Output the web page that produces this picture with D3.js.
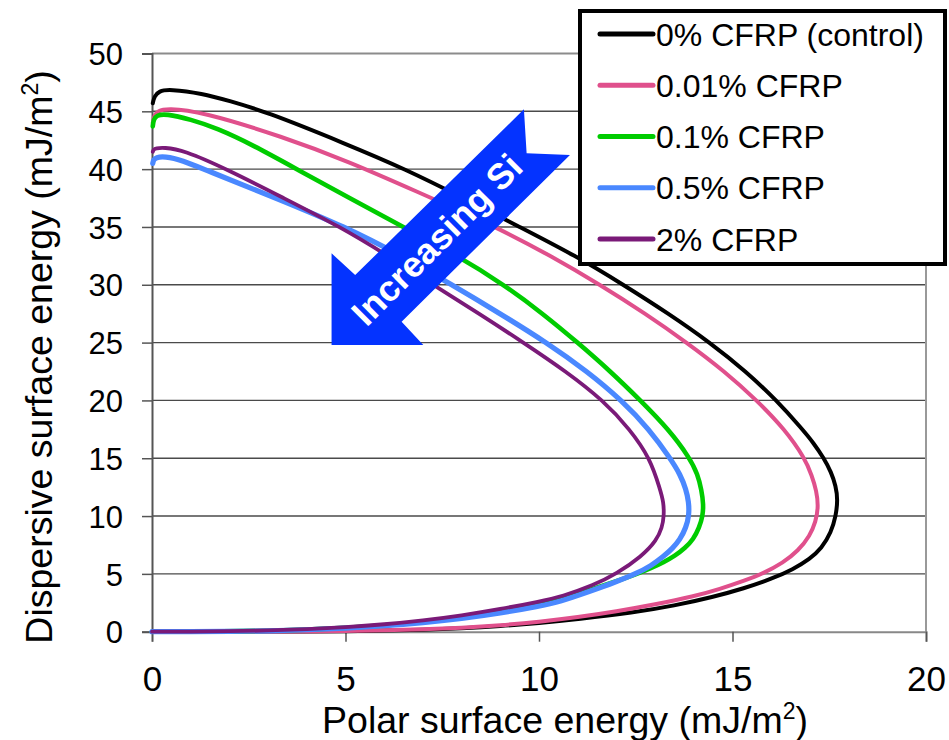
<!DOCTYPE html>
<html><head><meta charset="utf-8">
<script src="https://cdn.jsdelivr.net/npm/d3@7"></script>
<style>
html,body{margin:0;padding:0;background:#fff;}
text{font-family:"Liberation Sans",Arial,sans-serif;}
</style></head>
<body><svg id="c" width="949" height="740"></svg>
<script>
// ---- data: [polar, dispersive] read along each envelope ----
const seriesNames = ["0% CFRP (control)","0.01% CFRP","0.1% CFRP","0.5% CFRP","2% CFRP"];
const seriesColors = ["#000000","#e0508c","#00cc00","#4a88ff","#7a1a78"];
const seriesWidths = [4,4,4.6,5.2,3.8];

const ctrl = [[0,0],[2,0.003],[4,0.02],[5,0.045],[6,0.09],[7,0.17],[8,0.29],[9,0.48],[10,0.75],[11,1.08],[12.44,1.65],[13.5,2.25],[14.5,3.0],[15.3,3.75],[16.0,4.55],[16.57,5.4],[17.0,6.3],[17.3,7.2],[17.55,8.6],[17.67,10.0],[17.72,11.4],[17.67,12.6],[17.55,13.8],[17.36,15.0],[17.1,16.3],[16.78,17.6],[16.14,20.0],[15.35,22.5],[14.42,25.0],[13.35,27.5],[12.18,30.0],[10.95,32.5],[9.5,35.0],[8.05,37.5],[6.55,40.0],[5.0,42.2],[2.92,45.0],[2.0,45.9],[1.3,46.55],[0.45,46.92],[0.18,46.75],[0.06,46.3],[0.02,45.7]];
const p001 = [[0,0],[2,0.004],[4,0.025],[5,0.055],[6,0.11],[7,0.2],[8,0.34],[9,0.55],[10,0.85],[11,1.25],[12,1.75],[13,2.35],[14,3.05],[14.68,3.7],[15.3,4.4],[15.8,5.05],[16.3,5.95],[16.7,7.0],[17.0,8.3],[17.15,9.5],[17.22,10.8],[17.17,12.2],[17.05,13.5],[16.87,15.0],[16.35,17.5],[15.63,20.0],[14.8,22.5],[13.82,25.0],[12.75,27.5],[11.58,30.0],[10.3,32.5],[8.9,35.0],[6.75,38.2],[5.12,40.6],[3.39,42.8],[1.24,45.0],[0.4,45.26],[0.15,45.05],[0.05,44.6],[0.02,44.0]];
const p01 = [[0,0],[2,0.022],[3,0.075],[4,0.17],[5,0.32],[6,0.53],[7,0.83],[8,1.2],[9,1.68],[10,2.3],[10.54,2.7],[11.32,3.62],[11.95,4.3],[12.5,4.95],[12.9,5.5],[13.22,6.0],[13.51,6.55],[13.78,7.25],[13.99,8.0],[14.14,9.0],[14.23,10.0],[14.25,11.0],[14.2,12.25],[14.1,13.6],[13.9,15.0],[13.35,17.5],[12.62,20.0],[11.85,22.5],[11.0,25.0],[10.1,27.5],[9.1,30.0],[7.9,32.5],[6.49,35.0],[5.1,37.5],[3.74,40.0],[2.6,42.1],[1.67,43.55],[1.0,44.3],[0.35,44.8],[0.12,44.65],[0.04,44.3],[0.02,43.7]];
const p05 = [[0,0],[1,0.004],[2,0.02],[3,0.07],[4,0.16],[5,0.3],[6,0.5],[7,0.78],[8,1.13],[9,1.6],[10,2.2],[10.54,2.6],[11.32,3.5],[11.95,4.25],[12.5,5.0],[12.9,5.7],[13.21,6.49],[13.45,7.2],[13.64,7.95],[13.8,9.0],[13.88,10.1],[13.87,11.2],[13.8,12.3],[13.65,13.6],[13.39,15.0],[12.85,17.5],[12.14,20.0],[11.25,22.5],[10.2,25.0],[9.0,27.5],[7.75,30.0],[6.45,32.5],[5.0,35.0],[3.2,37.5],[1.33,40.0],[0.8,40.75],[0.32,41.12],[0.1,41.0],[0.04,40.8],[0.02,40.5]];
const p2 = [[0,0],[1,0.008],[2,0.035],[3,0.1],[4,0.21],[5,0.38],[6,0.63],[7,0.97],[8,1.4],[9,1.95],[10,2.6],[10.6,3.05],[11.4,4.0],[12.0,5.0],[12.65,6.5],[13.04,7.9],[13.18,9.0],[13.23,10.0],[13.22,11.2],[13.13,12.3],[12.87,15.0],[12.35,17.5],[11.66,20.0],[10.7,22.5],[9.6,25.0],[8.45,27.5],[7.27,30.0],[6.1,32.5],[4.87,35.0],[3.4,37.5],[1.93,40.0],[0.81,41.65],[0.3,41.88],[0.1,41.8],[0.04,41.7],[0.02,41.5]];
const seriesData = [ctrl,p001,p01,p05,p2];

const xTicks = [0,5,10,15,20];
const yTicks = [0,5,10,15,20,25,30,35,40,45,50];

// annotation arrow outline and label anchor, in data units
const arrowPts = [[9.61,45.17],[9.68,41.37],[10.80,41.22],[6.45,26.81],[7.01,24.79],[4.64,24.79],[4.64,32.72],[5.25,30.84]];
const arrowLabel = "Increasing Si";
const arrowLabelAt = [7.36,33.9];

const svg = d3.select("#c");
const x = d3.scaleLinear().domain([0,20]).range([152,926]);
const y = d3.scaleLinear().domain([0,50]).range([631.7,53.5]);

// gridlines
svg.append("g").selectAll("line").data(yTicks.filter(d=>d>0)).join("line")
  .attr("x1",x(0)).attr("x2",x(20)).attr("y1",d=>y(d)).attr("y2",d=>y(d))
  .attr("stroke",d=>d===50?"#8c8c8c":"#4a4a4a").attr("stroke-width",d=>d===50?2:1.4);
// right border
svg.append("line").attr("x1",x(20)).attr("x2",x(20)).attr("y1",y(50)).attr("y2",y(0))
  .attr("stroke","#999").attr("stroke-width",2);

// axes
const yAxis = d3.axisLeft(y).tickValues(yTicks).tickSize(10).tickPadding(18);
const gy = svg.append("g").attr("transform",`translate(${x(0)},0)`).call(yAxis);
gy.select(".domain").attr("stroke","#555").attr("stroke-width",2);
gy.selectAll(".tick line").attr("stroke","#555").attr("stroke-width",1.5);
gy.selectAll(".tick text").attr("font-size",31).attr("fill","#000")
  .attr("font-family","Liberation Sans, Arial, sans-serif").attr("dy","0.36em").attr("x",-29);

const xAxis = d3.axisBottom(x).tickValues(xTicks).tickSize(10).tickPadding(24);
const gx = svg.append("g").attr("transform",`translate(0,${y(0)})`).call(xAxis);
gx.select(".domain").attr("stroke","#888").attr("stroke-width",2);
gx.selectAll(".tick line").attr("stroke","#555").attr("stroke-width",1.5);
gx.selectAll(".tick text").attr("font-size",35).attr("fill","#000")
  .attr("font-family","Liberation Sans, Arial, sans-serif").attr("dy","0.71em");

// curves
const line = d3.line().x(d=>x(d[0])).y(d=>y(d[1])).curve(d3.curveBasis);
svg.append("g").selectAll("path").data(seriesData).join("path")
  .attr("d",line).attr("fill","none")
  .attr("stroke",(d,i)=>seriesColors[i]).attr("stroke-width",(d,i)=>seriesWidths[i])
  .attr("stroke-linejoin","round").attr("stroke-linecap","round");

// arrow annotation
svg.append("path")
  .attr("d", d3.line().x(d=>x(d[0])).y(d=>y(d[1]))(arrowPts)+"Z")
  .attr("fill","#0433ff");
svg.append("text").attr("x",0).attr("y",0)
  .attr("transform",`translate(${x(arrowLabelAt[0])},${y(arrowLabelAt[1])}) rotate(-45)`)
  .attr("text-anchor","middle").attr("dominant-baseline","central")
  .attr("font-size",36).attr("font-weight","bold").attr("fill","#fff")
  .text(arrowLabel);

// axis titles
const xt = svg.append("text").attr("x",565).attr("y",733).attr("text-anchor","middle")
  .attr("font-size",37.5).attr("fill","#000");
xt.append("tspan").text("Polar surface energy (mJ/m");
xt.append("tspan").attr("font-size",23).attr("dy",-14).text("2");
xt.append("tspan").attr("dy",14).text(")");

const yt = svg.append("text").attr("transform","translate(52,357) rotate(-90)").attr("text-anchor","middle")
  .attr("font-size",37.5).attr("fill","#000");
yt.append("tspan").text("Dispersive surface energy (mJ/m");
yt.append("tspan").attr("font-size",23).attr("dy",-14).text("2");
yt.append("tspan").attr("dy",14).text(")");

// legend
const lg = svg.append("g");
lg.append("rect").attr("x",580).attr("y",11).attr("width",365).attr("height",253)
  .attr("fill","#fff").attr("stroke","#000").attr("stroke-width",4);
const rowY = d3.scalePoint().domain(seriesNames).range([34,239]);
const items = lg.selectAll("g.item").data(seriesNames).join("g").attr("class","item");
items.append("line").attr("x1",600).attr("x2",653)
  .attr("y1",d=>rowY(d)).attr("y2",d=>rowY(d))
  .attr("stroke",(d,i)=>seriesColors[i]).attr("stroke-width",5).attr("stroke-linecap","round");
items.append("text").attr("x",656).attr("y",d=>rowY(d)+11.5)
  .attr("font-size",32).attr("fill","#000").text(d=>d);
</script></body></html>
